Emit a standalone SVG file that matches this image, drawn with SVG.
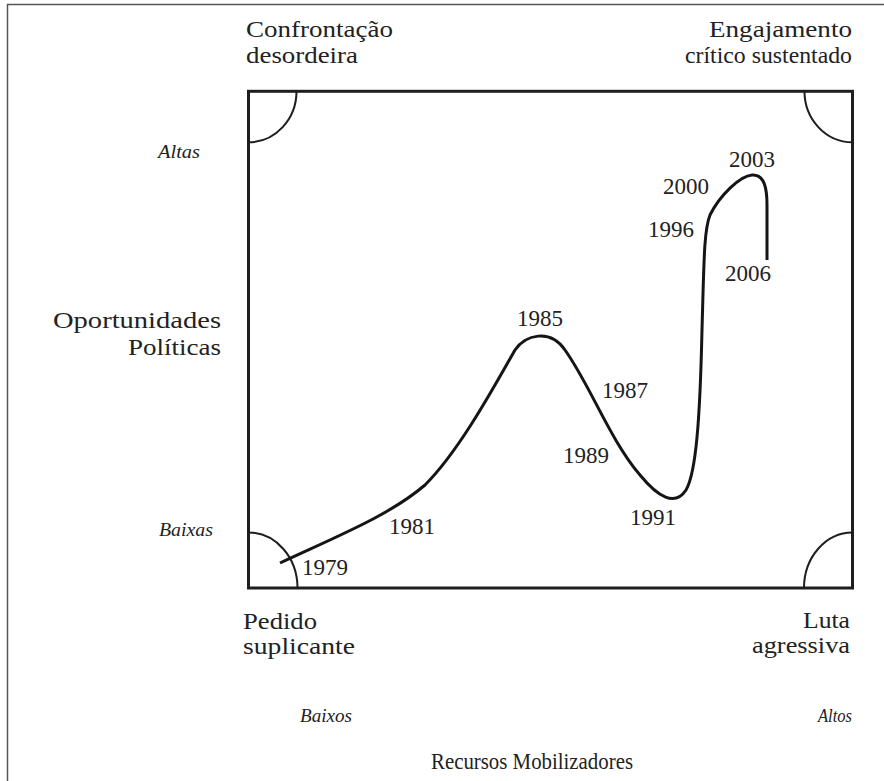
<svg xmlns="http://www.w3.org/2000/svg" width="884" height="781" viewBox="0 0 884 781">
<style>
.t{font-family:"Liberation Serif","Times New Roman",serif;fill:#222}
.lab{font-size:23px}
.yr{font-size:23px}
.it{font-size:19px;font-style:italic}
.box{fill:none;stroke:#1e1e1e;stroke-width:3}
.arc{fill:none;stroke:#1e1e1e;stroke-width:2}
.curve{fill:none;stroke:#151515;stroke-width:3;stroke-linecap:butt}
</style>
<rect x="0" y="0" width="884" height="781" fill="#fff"/>
<rect x="7.5" y="4.5" width="900" height="800" fill="none" stroke="#555" stroke-width="1.5"/>
<g id="frame">
<rect class="box" x="248.5" y="91.3" width="604" height="496.7"/>
<path class="arc" d="M296.5,91.3 A48,51 0 0 1 248.5,142.3"/>
<path class="arc" d="M804.5,91.3 A48,51 0 0 0 852.5,142.3"/>
<path class="arc" d="M248.5,532.5 A49,55.5 0 0 1 297.5,588"/>
<path class="arc" d="M852.5,532.5 A48.5,55.5 0 0 0 804,588"/>
</g>
<g id="corner-labels">
<text class="t lab" x="246" y="37" textLength="147" lengthAdjust="spacingAndGlyphs">Confrontação</text>
<text class="t lab" x="246" y="63" textLength="112" lengthAdjust="spacingAndGlyphs">desordeira</text>
<text class="t lab" x="852" y="37" text-anchor="end" textLength="143" lengthAdjust="spacingAndGlyphs">Engajamento</text>
<text class="t lab" x="852" y="63" text-anchor="end" textLength="167" lengthAdjust="spacingAndGlyphs">crítico sustentado</text>
<text class="t lab" x="243" y="629" textLength="74" lengthAdjust="spacingAndGlyphs">Pedido</text>
<text class="t lab" x="243" y="654" textLength="112" lengthAdjust="spacingAndGlyphs">suplicante</text>
<text class="t lab" x="850" y="628" text-anchor="end" textLength="47" lengthAdjust="spacingAndGlyphs">Luta</text>
<text class="t lab" x="850" y="653" text-anchor="end" textLength="98" lengthAdjust="spacingAndGlyphs">agressiva</text>
</g>
<g id="axis-labels">
<text class="t lab" x="221" y="328" text-anchor="end" textLength="168" lengthAdjust="spacingAndGlyphs">Oportunidades</text>
<text class="t lab" x="221" y="355" text-anchor="end" textLength="93" lengthAdjust="spacingAndGlyphs">Políticas</text>
<text class="t it" x="158" y="158" textLength="42" lengthAdjust="spacingAndGlyphs">Altas</text>
<text class="t it" x="159" y="536" textLength="54" lengthAdjust="spacingAndGlyphs">Baixas</text>
<text class="t it" x="300" y="722" textLength="52" lengthAdjust="spacingAndGlyphs">Baixos</text>
<text class="t it" x="852" y="722" text-anchor="end" textLength="34" lengthAdjust="spacingAndGlyphs">Altos</text>
<text class="t lab" x="431" y="769" textLength="202" lengthAdjust="spacingAndGlyphs">Recursos Mobilizadores</text>
</g>
<g id="connectors">
<path class="curve" d="M280,563 C340,535 390,515 425,485 C460,450 495,385 515,350 C525,335 550,328 565,350 C590,385 610,440 640,475 C658,497 675,507 686,490 C696,473 700,420 702,330 C704,260 704,230 710,215 C720,195 740,176 752,175 C765,174 767,190 767,205 L767,260"/>
</g>
<g id="years">
<text class="t yr" x="302" y="575">1979</text>
<text class="t yr" x="389" y="534">1981</text>
<text class="t yr" x="517" y="326">1985</text>
<text class="t yr" x="602" y="398">1987</text>
<text class="t yr" x="563" y="463">1989</text>
<text class="t yr" x="630" y="525">1991</text>
<text class="t yr" x="648" y="237">1996</text>
<text class="t yr" x="663" y="194">2000</text>
<text class="t yr" x="729" y="167">2003</text>
<text class="t yr" x="725" y="281">2006</text>
</g>
</svg>
